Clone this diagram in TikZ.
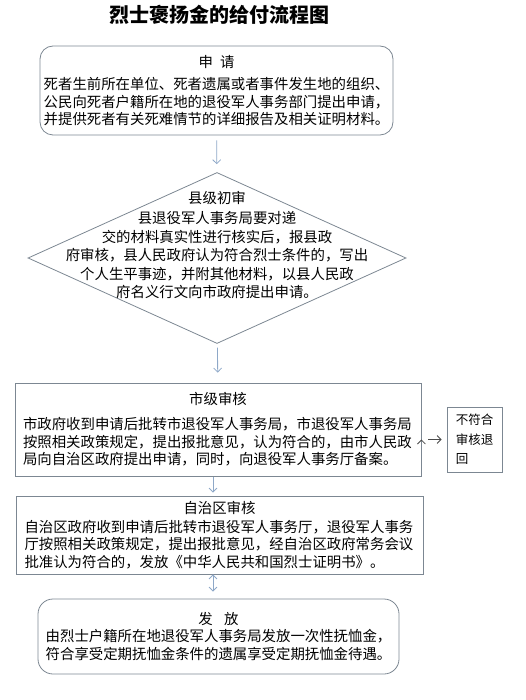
\documentclass[tikz,border=0pt]{standalone}
\usepackage{fontspec}
\setmainfont{Noto Sans CJK SC}
\usepackage{tikz}
\usetikzlibrary{arrows.meta}
\usetikzlibrary{shapes.geometric}

\definecolor{boxgray}{HTML}{7C8792}
\definecolor{flowblue}{HTML}{8EA8C8}
\definecolor{backgray}{HTML}{4A4A4A}

\begin{document}
\begin{tikzpicture}[x=1pt, y=-1pt,
	txt/.style={font=\fontsize{14.4}{17.6}\selectfont, inner sep=2pt},
	box/.style={txt, draw=boxgray, line width=0.8pt},
	decision/.style={diamond, draw=boxgray, line width=0.8pt, inner sep=0pt, minimum width=378pt, minimum height=171pt},
	flow/.style={-{Straight Barb[length=4pt, width=8pt]}, draw=flowblue, line width=0.8pt}]
\useasboundingbox (0,0) rectangle (525,700);

\node[font=\fontsize{20}{24}\selectfont\bfseries] (title) at (219,15) {烈士褒扬金的给付流程图};

\node[box, rounded corners=13pt, minimum width=353pt, minimum height=89pt, align=center] (apply) at (216.5,90.5)
	{申\hspace{0.5em}请\\[5pt]死者生前所在单位、死者遗属或者事件发生地的组织、\\公民向死者户籍所在地的退役军人事务部门提出申请，\\并提供死者有关死难情节的详细报告及相关证明材料。};

\node[decision] (county) at (217,258) {};
\node[txt, font=\fontsize{14.4}{18.5}\selectfont, align=center] (countytext) at ([yshift=13pt]county.center)
	{县级初审\\[2pt]县退役军人事务局要对递\\交的材料真实性进行核实后，报县政\\府审核，县人民政府认为符合烈士条件的，写出\\个人生平事迹，并附其他材料，以县人民政\\府名义行文向市政府提出申请。};

\node[box, minimum width=406pt, minimum height=93pt, text width=390pt, align=left] (city) at (218,429.5)
	{{\centering 市级审核\par}\vspace{7pt}市政府收到申请后批转市退役军人事务局，市退役军人事务局\\按照相关政策规定，提出报批意见，认为符合的，由市人民政\\局向自治区政府提出申请，同时，向退役军人事务厅备案。};

\node[box, font=\fontsize{12.5}{19.5}\selectfont, minimum width=55pt, minimum height=65pt, text width=37.5pt, align=left] (reject) at (474.5,439.5)
	{不符合\\审核退\\回};

\node[box, minimum width=407pt, minimum height=78pt, text width=390pt, align=left] (region) at (219.5,535)
	{{\centering 自治区审核\par}\vspace{1.5pt}自治区政府收到申请后批转市退役军人事务厅，退役军人事务\\厅按照相关政策规定，提出报批意见，经自治区政府常务会议\\批准认为符合的，发放《中华人民共和国烈士证明书》。};

\node[box, rounded corners=15pt, minimum width=361pt, minimum height=75pt, align=center] (pay) at (218.5,636.5)
	{发\hspace{0.8em}放\\由烈士户籍所在地退役军人事务局发放一次性抚恤金，\\符合享受定期抚恤金条件的遗属享受定期抚恤金待遇。};

\path[flow]
(apply) edge[shorten <=5pt, shorten >=8pt] (county)
(county) edge[shorten <=4pt, shorten >=10pt] (city)
([xshift=-5pt]city.south) edge[shorten <=1pt, shorten >=3pt] ([xshift=-5pt]city.south |- region.north)
([xshift=-6.5pt]region.south) edge[shorten <=1pt, shorten >=7pt] ([xshift=-6.5pt]region.south |- pay.north);
\path[-{Straight Barb[length=4pt, width=8pt]}, draw=backgray, line width=0.8pt]
(reject.west -| city.east) edge[shorten <=7pt, shorten >=5pt] (reject.west);
\end{tikzpicture}
\end{document}
